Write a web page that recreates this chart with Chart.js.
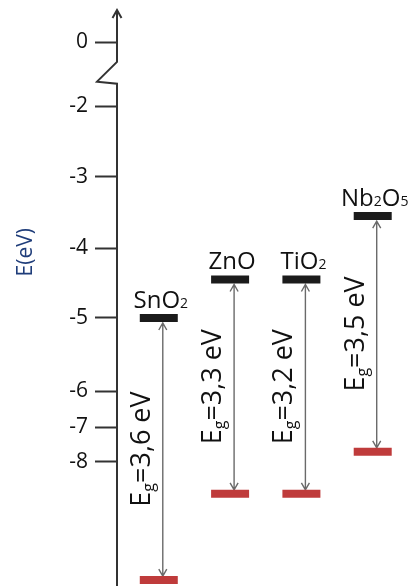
<!DOCTYPE html>
<html>
<head>
<meta charset="utf-8">
<script src="https://cdn.jsdelivr.net/npm/chart.js@4.4.1/dist/chart.umd.min.js"></script>
<style>
    html, body { margin: 0; padding: 0; background: #fff; }
    #wrap { width: 415px; height: 586px; }
</style>
</head>
<body>
<div id="wrap"><canvas id="bandChart"></canvas></div>
<script>
// Data
const materials = ['SnO2', 'ZnO', 'TiO2', 'Nb2O5'];
const cbEnergy = [-5.0, -4.45, -4.45, -3.55];   // conduction band (black)
const vbEnergy = [-11.37, -8.91, -8.91, -7.71];  // valence band (red), as drawn
const gapLabels = ['3,6', '3,3', '3,2', '3,5'];
const tickValues = [0, -2, -3, -4, -5, -6, -7, -8];

// Colours
const colors = {
    axis: '#333333',
    cb: '#1b1b1b',
    vb: '#bf3b3b',
    arrow: '#6a6a6a',
    title: '#1f3d7a',
    text: '#111111'
};

// ─── Broken energy axis (piecewise linear, like the hand-drawn axis) ───
class BrokenScale extends Chart.LinearScale {
    _frac(v) {
        const s = this.options.stops;
        let i = 0;
        while (i < s.length - 2 && v < s[i + 1][0]) i++;
        const [v0, f0] = s[i], [v1, f1] = s[i + 1];
        return f0 + (v - v0) * (f1 - f0) / (v1 - v0);
    }
    getPixelForValue(v) {
        return this.top + this._frac(v) * (this.bottom - this.top);
    }
    getValueForPixel(p) {
        const f = (p - this.top) / (this.bottom - this.top);
        const s = this.options.stops;
        let i = 0;
        while (i < s.length - 2 && f > s[i + 1][1]) i++;
        const [v0, f0] = s[i], [v1, f1] = s[i + 1];
        return v0 + (f - f0) * (v1 - v0) / (f1 - f0);
    }
}
BrokenScale.id = 'broken';
BrokenScale.defaults = Chart.LinearScale.defaults;
Chart.register(BrokenScale);

// draw text pieces one after another, left aligned at x, on baseline y
function drawRich(ctx, parts, x, y) {
    parts.forEach(p => {
        ctx.font = p.font;
        ctx.fillText(p.text, x, y + (p.dy || 0));
        x += ctx.measureText(p.text).width;
    });
}
function richWidth(ctx, parts) {
    return parts.reduce((w, p) => { ctx.font = p.font; return w + ctx.measureText(p.text).width; }, 0);
}
function formulaParts(name, size) {
    return name.split(/(\d+)/).filter(t => t).map(t => /\d/.test(t)
        ? { text: t, font: `${Math.round(size * 0.6)}px "Open Sans"`, dy: 0 }
        : { text: t, font: `${size}px "Open Sans"` });
}

const bandDecor = {
    id: 'bandDecor',
    beforeDatasetsDraw(chart) {
        const { ctx, scales: { x, y }, chartArea } = chart;
        ctx.save();

        // energy axis with arrow and break
        const ax = chartArea.left;
        const yBreakTop = y.getPixelForValue(-0.62);
        const yBreakBot = y.getPixelForValue(-1.27);
        ctx.strokeStyle = colors.axis;
        ctx.fillStyle = colors.axis;
        ctx.lineWidth = 2;
        ctx.beginPath();
        ctx.moveTo(ax, chartArea.top + 2);
        ctx.lineTo(ax, yBreakTop);
        ctx.lineTo(ax - 20, yBreakBot - 1);
        ctx.lineTo(ax, yBreakBot + 1);
        ctx.lineTo(ax, chartArea.bottom);
        ctx.stroke();
        ctx.beginPath();
        ctx.moveTo(ax - 4.5, chartArea.top + 8);
        ctx.lineTo(ax, chartArea.top);
        ctx.lineTo(ax + 4.5, chartArea.top + 8);
        ctx.stroke();

        // axis title
        ctx.save();
        ctx.translate(26, y.getPixelForValue(-4.06));
        ctx.rotate(-Math.PI / 2);
        ctx.fillStyle = colors.title;
        ctx.font = '21px "Open Sans"';
        ctx.textAlign = 'center';
        ctx.textBaseline = 'middle';
        ctx.fillText('E(eV)', 0, 0);
        ctx.restore();

        // gap arrows
        ctx.strokeStyle = colors.arrow;
        ctx.lineWidth = 1.4;
        materials.forEach((m, i) => {
            const xa = x.getPixelForValue(i) + 4;
            const y1 = y.getPixelForValue(cbEnergy[i]) + 5;
            const y2 = y.getPixelForValue(vbEnergy[i]) - 4;
            ctx.beginPath();
            ctx.moveTo(xa, y1);
            ctx.lineTo(xa, y2);
            ctx.moveTo(xa - 4, y1 + 7);
            ctx.lineTo(xa, y1);
            ctx.lineTo(xa + 4, y1 + 7);
            ctx.moveTo(xa - 4, y2 - 7);
            ctx.lineTo(xa, y2);
            ctx.lineTo(xa + 4, y2 - 7);
            ctx.stroke();
        });
        ctx.restore();
    },
    afterDatasetsDraw(chart) {
        const { ctx, scales: { x, y } } = chart;
        ctx.save();
        ctx.fillStyle = colors.text;
        ctx.textBaseline = 'alphabetic';

        materials.forEach((m, i) => {
            const xc = x.getPixelForValue(i);
            const yc = y.getPixelForValue(cbEnergy[i]);

            // material name above the conduction band
            const parts = formulaParts(m, 24);
            const w = richWidth(ctx, parts);
            drawRich(ctx, parts, xc + 2 - w / 2, yc - 10);

            // rotated band gap label
            const yv = y.getPixelForValue(vbEnergy[i]);
            const gap = [
                { text: 'E', font: '27px "Open Sans"' },
                { text: 'g', font: '16px "Open Sans"', dy: 4 },
                { text: `=${gapLabels[i]} eV`, font: '27px "Open Sans"' }
            ];
            const gw = richWidth(ctx, gap);
            ctx.save();
            ctx.translate(xc - 18, (yc + yv) / 2);
            ctx.rotate(-Math.PI / 2);
            drawRich(ctx, gap, -gw / 2, 9);
            ctx.restore();
        });
        ctx.restore();
    }
};

const bandLevel = (values, color) => ({
    data: values.map((v, i) => ({ x: i, y: v })),
    pointStyle: 'line',
    pointRadius: 19,
    pointHoverRadius: 19,
    pointBorderWidth: 8,
    pointHoverBorderWidth: 8,
    borderColor: color,
    backgroundColor: color,
    showLine: false,
    clip: false
});

new Chart(document.getElementById('bandChart'), {
    type: 'scatter',
    data: {
        datasets: [
            bandLevel(cbEnergy, colors.cb),
            bandLevel(vbEnergy, colors.vb)
        ]
    },
    options: {
        responsive: true,
        maintainAspectRatio: false,
        animation: false,
        events: [],
        layout: {
            autoPadding: false,
            padding: { top: 10, right: 0, bottom: 0, left: 0 }
        },
        plugins: {
            legend: { display: false },
            tooltip: { enabled: false }
        },
        scales: {
            x: {
                type: 'linear',
                display: false,
                min: -0.586,
                max: 3.593
            },
            y: {
                type: 'broken',
                min: -11.54,
                max: 1.0,
                stops: [
                    [1.0, 0], [0, 0.0556], [-2, 0.1667], [-3, 0.2899], [-4, 0.4132],
                    [-5, 0.5347], [-6, 0.6615], [-7, 0.7240], [-8, 0.7847], [-11.54, 1]
                ],
                afterBuildTicks: s => { s.ticks = tickValues.map(v => ({ value: v })); },
                afterFit: s => {
                    s.width = 117;
                    s.paddingTop = 0;
                    s.paddingBottom = 0;
                },
                border: { display: false },
                grid: {
                    drawOnChartArea: false,
                    drawTicks: true,
                    tickLength: 22,
                    tickWidth: 2,
                    tickColor: colors.axis
                },
                ticks: {
                    padding: 7,
                    color: colors.text,
                    font: { family: '"Open Sans"', size: 21 },
                    callback: v => String(v)
                }
            }
        }
    },
    plugins: [bandDecor]
});
</script>
</body>
</html>
